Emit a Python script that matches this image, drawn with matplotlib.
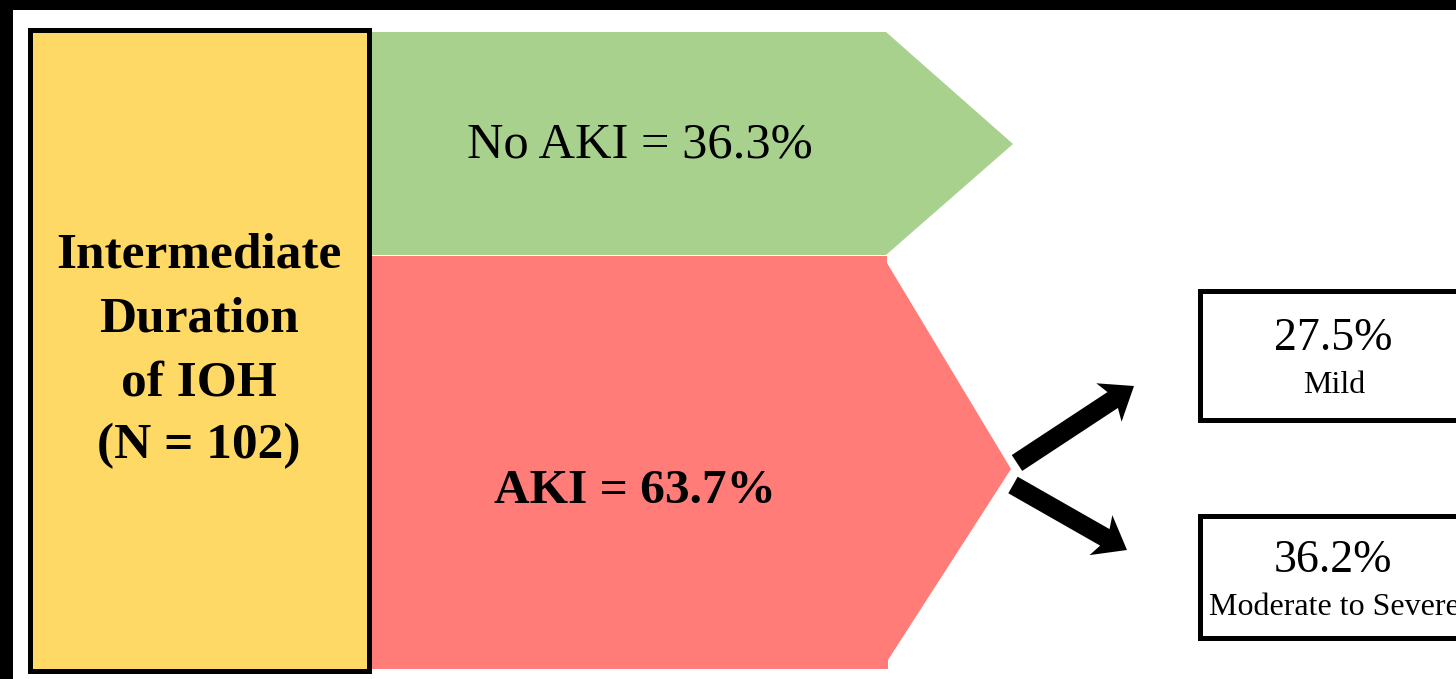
import matplotlib.pyplot as plt
from matplotlib.patches import Rectangle, Polygon, FancyArrow

plt.rcParams['font.family'] = ['Liberation Serif', 'DejaVu Serif']

#~~~~~~Study numbers~~~~~~
group_lines = ['Intermediate', 'Duration', 'of IOH']
n_patients  = 102
outcome_names = ['No AKI', 'AKI']
outcome_pct   = [36.3, 63.7]
stage_names = ['Mild', 'Moderate to Severe']
stage_pct   = [27.5, 36.2]

#~~~~~~Colours~~~~~~
yellow = '#FFD966'
green  = '#A9D18E'
red    = '#FF7C78'

W, H = 1456, 679
fig = plt.figure(figsize=(W / 100, H / 100), dpi=100)
ax = fig.add_axes([0, 0, 1, 1])
ax.set_xlim(0, W)
ax.set_ylim(H, 0)
ax.axis('off')

# dark frame edges along the top and left
ax.add_patch(Rectangle((0, 0), W, 10, color='black', lw=0))
ax.add_patch(Rectangle((0, 0), 13, H, color='black', lw=0))

# group box on the left
ax.add_patch(Rectangle((29.5, 29.5), 339, 641, facecolor=yellow,
                       edgecolor='black', lw=3.6, zorder=3))
for i, line in enumerate(group_lines + ['(N = %d)' % n_patients]):
    ax.text(199, 268 + i * 63.5, line, ha='center', va='baseline',
            fontsize=37, fontweight='bold', zorder=4)

# outcome chevrons
ax.add_patch(Polygon([(371, 32), (886, 32), (1013, 144), (886, 255), (371, 255)],
                     closed=True, facecolor=green, edgecolor='none'))
ax.add_patch(Polygon([(371, 256), (887, 256), (887, 263), (1011, 469),
                      (888, 660), (888, 669), (371, 669)],
                     closed=True, facecolor=red, edgecolor='none'))
ax.text(640, 157, '%s = %.1f%%' % (outcome_names[0], outcome_pct[0]),
        ha='center', va='baseline', fontsize=36.4)
ax.text(635, 503, '%s = %.1f%%' % (outcome_names[1], outcome_pct[1]),
        ha='center', va='baseline', fontsize=35.6, fontweight='bold')

# arrows to the AKI stages
arrow_kw = dict(width=19, head_width=46, head_length=30, overhang=0.15,
                length_includes_head=True, color='black', lw=0)
ax.add_patch(FancyArrow(1017, 463, 1134 - 1017, 386 - 463, **arrow_kw))
ax.add_patch(FancyArrow(1013, 485, 1127 - 1013, 550 - 485, **arrow_kw))

# stage boxes
box_tops = [290.5, 515.5]
box_h    = [129, 122]
for top, h in zip(box_tops, box_h):
    ax.add_patch(Rectangle((1199.5, top), 270, h, facecolor='white',
                           edgecolor='black', lw=3.6))
for base, pct in zip([350, 572], stage_pct):
    ax.text(1333, base, '%.1f%%' % pct, ha='center', va='baseline', fontsize=33)
for base, name in zip([393, 615], stage_names):
    ax.text(1334, base, name, ha='center', va='baseline', fontsize=23)

fig.savefig('out.png', dpi=100)
